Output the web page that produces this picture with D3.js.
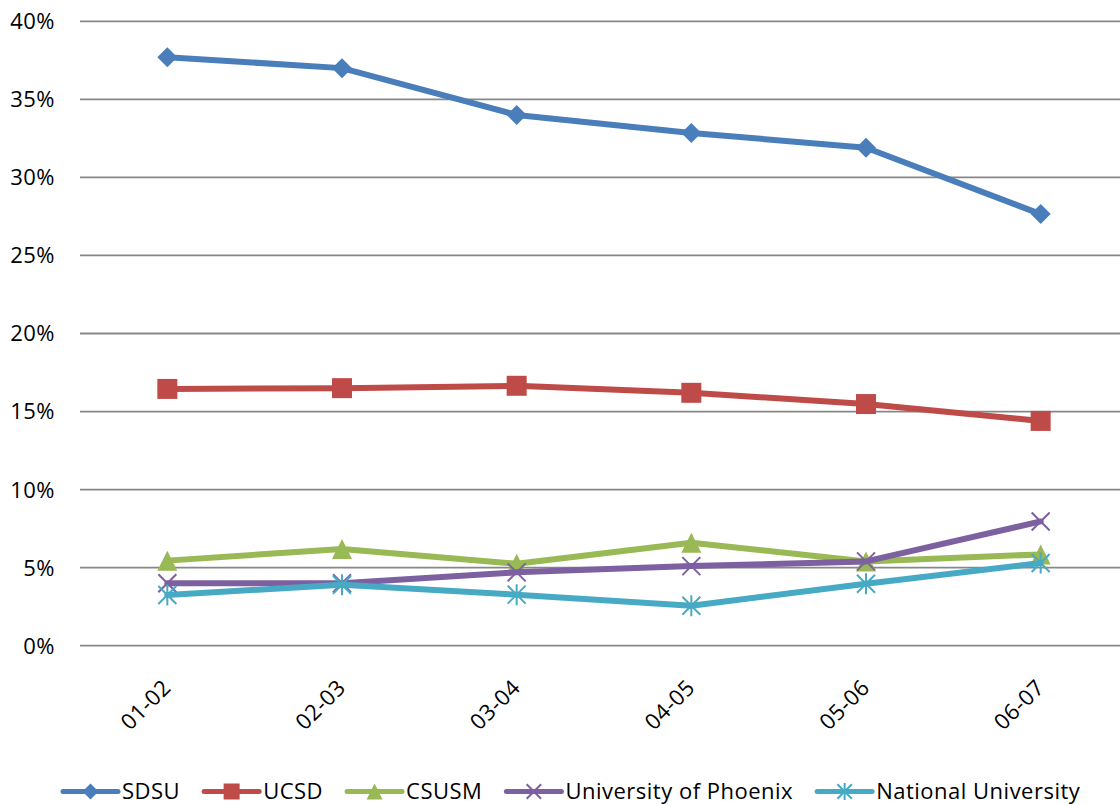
<!DOCTYPE html>
<html><head><meta charset="utf-8">
<script src="https://cdn.jsdelivr.net/npm/d3@7"></script>
<style>
html,body{margin:0;padding:0;background:#fff;}
svg{display:block;font-family:"Open Sans",sans-serif;}
svg text{letter-spacing:0.5px;}
</style></head>
<body>
<svg id="chart" width="1120" height="804"></svg>
<script>
const categories = ["01-02","02-03","03-04","04-05","05-06","06-07"];
const seriesNames = ["SDSU","UCSD","CSUSM","University of Phoenix","National University"];
const sdsu     = [37.7, 37.0, 34.0, 32.85, 31.9, 27.65];
const ucsd     = [16.45, 16.5, 16.65, 16.2, 15.48, 14.4];
const csusm    = [5.45, 6.2, 5.25, 6.6, 5.4, 5.85];
const phoenix  = [4.0, 4.0, 4.7, 5.1, 5.4, 7.96];
const national = [3.25, 3.9, 3.27, 2.56, 3.97, 5.3];
const yTicks = [0,5,10,15,20,25,30,35,40];
const colors = ["#4A7EBB","#BE4B48","#98B954","#7D60A0","#46AAC5"];
const markers = ["diamond","square","triangle","x","star"];
const seriesValues = [sdsu, ucsd, csusm, phoenix, national];

const svg = d3.select("#chart");
const x = d3.scalePoint().domain(categories).range([80, 1128]).padding(0.5);
const y = d3.scaleLinear().domain([0, 40]).range([645.7, 21.3]);
const FS = 22;

// gridlines
svg.append("g").selectAll("line").data(yTicks).join("line")
  .attr("x1", 80).attr("x2", 1120)
  .attr("y1", d => y(d)).attr("y2", d => y(d))
  .attr("stroke", "#878787").attr("stroke-width", 1.8);

// y labels
svg.append("g").selectAll("text").data(yTicks).join("text")
  .attr("x", 55).attr("y", d => y(d)).attr("dy", "0.36em")
  .attr("text-anchor", "end").attr("font-size", FS).attr("fill", "#000")
  .text(d => d + "%");

// x labels
svg.append("g").selectAll("text").data(categories).join("text")
  .attr("text-anchor", "end").attr("font-size", FS).attr("fill", "#000")
  .attr("transform", d => `translate(${x(d) + 5},689) rotate(-45)`)
  .text(d => d);

function markerPath(type, s) {
  const r = 10 * s;
  switch (type) {
    case "diamond": return `M0,${-r}L${r},0L0,${r}L${-r},0Z`;
    case "square": return `M${-r},${-r}H${r}V${r}H${-r}Z`;
    case "triangle": return `M0,${-r}L${r},${r}L${-r},${r}Z`;
    case "x": { const a = 9 * s; return `M${-a},${-a}L${a},${a}M${-a},${a}L${a},${-a}`; }
    case "star": { const a = 9 * s, b = 10.5 * s; return `M${-a},${-a}L${a},${a}M${-a},${a}L${a},${-a}M0,${-b}L0,${b}`; }
  }
}
function drawMarker(g, type, color, s) {
  const filled = type === "diamond" || type === "square" || type === "triangle";
  g.append("path").attr("d", markerPath(type, s))
    .attr("fill", filled ? color : "none")
    .attr("stroke", filled ? "none" : color)
    .attr("stroke-width", filled ? 0 : 2);
}

const line = d3.line().x((d, i) => x(categories[i])).y(d => y(d));
seriesValues.forEach((vals, si) => {
  const g = svg.append("g");
  g.append("path").datum(vals).attr("d", line)
    .attr("fill", "none").attr("stroke", colors[si]).attr("stroke-width", 6)
    .attr("stroke-linejoin", "round").attr("stroke-linecap", "round");
  vals.forEach((v, i) => {
    const mg = g.append("g").attr("transform", `translate(${x(categories[i])},${y(v)})`);
    drawMarker(mg, markers[si], colors[si], 1);
  });
});

// legend
const legend = svg.append("g");
let lx = 63;
const ly = 791.5;
seriesNames.forEach((name, si) => {
  const g = legend.append("g").attr("transform", `translate(${lx},${ly})`);
  g.append("line").attr("x1", 0).attr("x2", 55).attr("y1", 0).attr("y2", 0)
    .attr("stroke", colors[si]).attr("stroke-width", 5).attr("stroke-linecap", "round");
  const mg = g.append("g").attr("transform", "translate(27.5,0)");
  drawMarker(mg, markers[si], colors[si], 0.8);
  const t = g.append("text").attr("x", 59).attr("y", 0).attr("dy", "0.36em")
    .attr("font-size", FS).attr("fill", "#000").text(name);
  lx += 59 + t.node().getComputedTextLength() + 24;
});
</script>
</body></html>
